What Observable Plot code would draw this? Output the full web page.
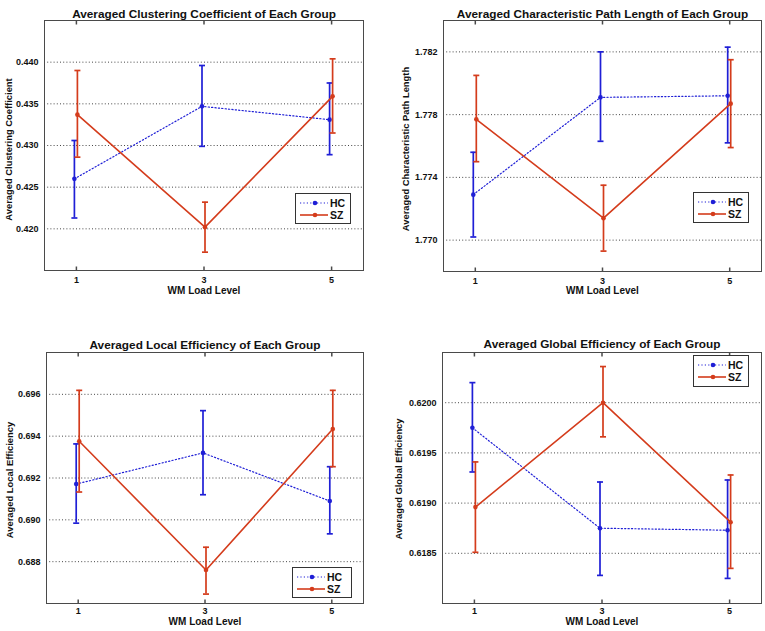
<!DOCTYPE html>
<html>
<head>
<meta charset="utf-8">
<script src="https://cdn.jsdelivr.net/npm/d3@7"></script>
<script src="https://cdn.jsdelivr.net/npm/@observablehq/plot@0.6"></script>
<style>
  html, body { margin: 0; padding: 0; background: #fff; }
  #root { position: relative; width: 765px; height: 631px; overflow: hidden; font-family: "Liberation Sans", Arial, sans-serif; }
  .panel { position: absolute; }
  .legend { position: absolute; background: #fff; border: 1px solid #333; box-sizing: border-box; }
  .legend svg { position: absolute; left: 0; top: 0; }
</style>
</head>
<body>
<div id="root"></div>
<script>
// ---------- data ----------
const loads = [1, 3, 5];
const xLabel = "WM Load Level";
const groups = ["HC", "SZ"];

// Panel 1: clustering coefficient
const ccTitle = "Averaged Clustering Coefficient of Each Group";
const ccYLabel = "Averaged Clustering Coefficient";
const ccTicks = [0.420, 0.425, 0.430, 0.435, 0.440];
const ccHC = [0.4260, 0.4347, 0.4331];
const ccHCLo = [0.4213, 0.4299, 0.4289];
const ccHCHi = [0.4306, 0.4396, 0.4375];
const ccSZ = [0.4337, 0.4202, 0.4359];
const ccSZLo = [0.4286, 0.4172, 0.4315];
const ccSZHi = [0.4390, 0.4232, 0.4404];

// Panel 2: characteristic path length
const plTitle = "Averaged Characteristic Path Length of Each Group";
const plYLabel = "Averaged Characteristic Path Length";
const plTicks = [1.770, 1.774, 1.778, 1.782];
const plHC = [1.7729, 1.7791, 1.7792];
const plHCLo = [1.7702, 1.7763, 1.7762];
const plHCHi = [1.7756, 1.7820, 1.7823];
const plSZ = [1.7777, 1.7714, 1.7787];
const plSZLo = [1.7750, 1.7693, 1.7759];
const plSZHi = [1.7805, 1.7735, 1.7815];

// Panel 3: local efficiency
const leTitle = "Averaged Local Efficiency of Each Group";
const leYLabel = "Averaged Local Efficiency";
const leTicks = [0.688, 0.690, 0.692, 0.694, 0.696];
const leHC = [0.69171, 0.6932, 0.6909];
const leHCLo = [0.68984, 0.6912, 0.68933];
const leHCHi = [0.69363, 0.69522, 0.69254];
const leSZ = [0.69376, 0.6876, 0.69434];
const leSZLo = [0.69133, 0.68645, 0.69254];
const leSZHi = [0.69619, 0.68869, 0.69619];

// Panel 4: global efficiency
const geTitle = "Averaged Global Efficiency of Each Group";
const geYLabel = "Averaged Global Efficiency";
const geTicks = [0.6185, 0.6190, 0.6195, 0.6200];
const geHC = [0.61975, 0.61875, 0.61873];
const geHCLo = [0.61931, 0.61828, 0.61825];
const geHCHi = [0.62020, 0.61921, 0.61923];
const geSZ = [0.61896, 0.62000, 0.61881];
const geSZLo = [0.61851, 0.61966, 0.61835];
const geSZHi = [0.61941, 0.62036, 0.61928];

// ---------- styling ----------
const FONT = '"Liberation Sans", Arial, sans-serif';
const BLUE = "#1f1fd6";
const RED = "#d43c1c";
const FRAME = "#4a4a4a";

const capSym = { draw(ctx, size) { const r = Math.sqrt(size / Math.PI); ctx.moveTo(-r, 0); ctx.lineTo(r, 0); } };
const vSym = { draw(ctx, size) { const r = Math.sqrt(size / Math.PI); ctx.moveTo(0, -r); ctx.lineTo(0, r); } };

function rowsOf(mean, lo, hi) {
  return loads.map((x, i) => ({ load: x, mean: mean[i], lo: lo[i], hi: hi[i] }));
}

function seriesMarks(rows, color, dx, dashed) {
  return [
    Plot.line(rows, { x: "load", y: "mean", stroke: color, strokeWidth: dashed ? 1.2 : 1.6,
      strokeDasharray: dashed ? "1.2,2.2" : null, dx }),
    Plot.ruleX(rows, { x: "load", y1: "lo", y2: "hi", stroke: color, strokeWidth: 1.7, dx }),
    Plot.dot(rows, { x: "load", y: "hi", symbol: capSym, r: 3, stroke: color, fill: "none", strokeWidth: 1.7, dx }),
    Plot.dot(rows, { x: "load", y: "lo", symbol: capSym, r: 3, stroke: color, fill: "none", strokeWidth: 1.7, dx }),
    Plot.dot(rows, { x: "load", y: "mean", r: 2.3, fill: color, stroke: "none", dx })
  ];
}

function makePanel(o) {
  const hcRows = rowsOf(o.hc, o.hcLo, o.hcHi);
  const szRows = rowsOf(o.sz, o.szLo, o.szHi);
  return Plot.plot({
    width: o.width, height: o.height,
    marginLeft: o.ml, marginRight: o.mr, marginTop: o.mt, marginBottom: o.mb,
    style: { fontFamily: FONT, fontSize: "9px", fontWeight: "bold", color: "#111", background: "transparent", overflow: "visible" },
    x: { domain: [0.5, 5.5], ticks: loads, tickSize: 0, tickPadding: o.xPad, label: null, tickFormat: d => String(d) },
    y: { domain: o.yDomain, ticks: o.yTicks, tickSize: 0, tickPadding: 6, label: null, tickFormat: d3.format(o.fmt) },
    marks: [
      Plot.gridY(o.yTicks, { stroke: "#333", strokeOpacity: 0.9, strokeWidth: 1, strokeDasharray: "1,2.2" }),
      // inward ticks
      Plot.dot(loads, { x: d => d, frameAnchor: "bottom", dy: -2, symbol: vSym, r: 2, stroke: FRAME, fill: "none" }),
      Plot.dot(loads, { x: d => d, frameAnchor: "top", dy: 2, symbol: vSym, r: 2, stroke: FRAME, fill: "none" }),
      ...seriesMarks(hcRows, BLUE, -2, true),
      ...seriesMarks(szRows, RED, 1, false),
      Plot.frame({ stroke: FRAME, strokeWidth: 1 }),
      Plot.text([o.title], { text: d => d, frameAnchor: "top", dy: o.titleDy, fontSize: 11.8, fontWeight: "bold", fill: "#111" }),
      Plot.text([o.ylabel], { text: d => d, frameAnchor: "left", textAnchor: "middle", dx: o.ylabDx, dy: o.ylabDy, rotate: -90, fontSize: 9.4, fontWeight: "bold", fill: "#111" }),
      Plot.text([xLabel], { text: d => d, frameAnchor: "bottom", dy: o.xlabDy, fontSize: 10, fontWeight: "bold", fill: "#111" })
    ]
  });
}

function makeLegend(left, top, w, h) {
  const div = document.createElement("div");
  div.className = "legend";
  Object.assign(div.style, { left: left + "px", top: top + "px", width: w + "px", height: h + "px" });
  const svg = d3.create("svg").attr("width", w).attr("height", h);
  const rows = [
    { name: groups[0], color: BLUE, dash: "1.2,2.2", y: 9, sw: 1.2 },
    { name: groups[1], color: RED, dash: null, y: 21, sw: 1.6 }
  ];
  for (const r of rows) {
    svg.append("line").attr("x1", 4).attr("x2", 32).attr("y1", r.y).attr("y2", r.y)
      .attr("stroke", r.color).attr("stroke-width", r.sw).attr("stroke-dasharray", r.dash);
    svg.append("circle").attr("cx", 19).attr("cy", r.y).attr("r", 2.3).attr("fill", r.color);
    svg.append("text").attr("x", 34).attr("y", r.y).attr("dy", "0.35em")
      .attr("font-family", FONT).attr("font-weight", "bold").attr("font-size", 10.5).attr("fill", "#111")
      .text(r.name);
  }
  div.appendChild(svg.node());
  return div;
}

const root = document.getElementById("root");
const panels = [
  { left: 0, top: 0, width: 382, height: 316, ml: 44, mr: 19, mt: 20, mb: 46, titleDy: -11, ylabDx: -36, ylabDy: 4, xlabDy: 23.5, xPad: 6,
    title: ccTitle, ylabel: ccYLabel, yDomain: [0.415, 0.445], yTicks: ccTicks, fmt: ".3f",
    hc: ccHC, hcLo: ccHCLo, hcHi: ccHCHi, sz: ccSZ, szLo: ccSZLo, szHi: ccSZHi,
    legend: [295, 193, 56, 31] },
  { left: 380, top: 0, width: 385, height: 316, ml: 63, mr: 4, mt: 20, mb: 45, titleDy: -11, ylabDx: -38, ylabDy: 3, xlabDy: 22.5, xPad: 6,
    title: plTitle, ylabel: plYLabel, yDomain: [1.768, 1.784], yTicks: plTicks, fmt: ".3f",
    hc: plHC, hcLo: plHCLo, hcHi: plHCHi, sz: plSZ, szLo: plSZLo, szHi: plSZHi,
    legend: [693, 192, 56, 31] },
  { left: 0, top: 316, width: 382, height: 315, ml: 46, mr: 19, mt: 36, mb: 28, titleDy: -12, ylabDx: -37, ylabDy: 2, xlabDy: 21.5, xPad: 4.5,
    title: leTitle, ylabel: leYLabel, yDomain: [0.686, 0.698], yTicks: leTicks, fmt: ".3f",
    hc: leHC, hcLo: leHCLo, hcHi: leHCHi, sz: leSZ, szLo: leSZLo, szHi: leSZHi,
    legend: [292, 567, 60, 31] },
  { left: 380, top: 316, width: 385, height: 315, ml: 62, mr: 4, mt: 36, mb: 28, titleDy: -13, ylabDx: -44, ylabDy: 1, xlabDy: 21.5, xPad: 4.5,
    title: geTitle, ylabel: geYLabel, yDomain: [0.6180, 0.6205], yTicks: geTicks, fmt: ".4f",
    hc: geHC, hcLo: geHCLo, hcHi: geHCHi, sz: geSZ, szLo: geSZLo, szHi: geSZHi,
    legend: [693, 355, 56, 32] }
];

for (const p of panels) {
  const div = document.createElement("div");
  div.className = "panel";
  div.style.left = p.left + "px";
  div.style.top = p.top + "px";
  div.appendChild(makePanel(p));
  root.appendChild(div);
}
for (const p of panels) {
  const [l, t, w, h] = p.legend;
  root.appendChild(makeLegend(l, t, w, h));
}
</script>
</body>
</html>
